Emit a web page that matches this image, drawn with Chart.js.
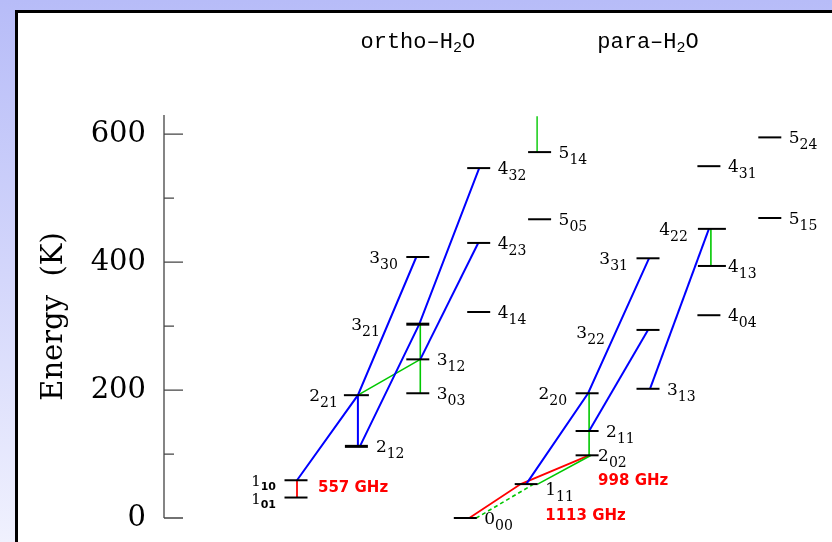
<!DOCTYPE html>
<html>
<head>
<meta charset="utf-8">
<script src="https://cdn.jsdelivr.net/npm/chart.js@4.4.1/dist/chart.umd.min.js"></script>
<style>
  html, body { margin: 0; padding: 0; width: 832px; height: 542px; overflow: hidden; }
  body { position: relative; background: linear-gradient(to bottom, #b7bcf8 0%, #d3d6fb 50%, #f0f1fe 100%); }
  #panel { position: absolute; left: 15px; top: 10px; right: 0; bottom: 0; background: #fff;
           border-left: 3px solid #000; border-top: 3px solid #000; }
  #c { position: absolute; left: 0; top: 0; }
</style>
</head>
<body>
<div id="panel"></div>
<canvas id="c" width="832" height="542"></canvas>
<script>
// ---- Water rotational levels: J, KaKc and energy above ground (K) ----
const orthoJ      = [1, 1, 2, 2, 3, 3, 3, 3, 4, 4, 4, 5, 5];
const orthoKaKc   = ['01', '10', '12', '21', '03', '12', '21', '30', '14', '23', '32', '05', '14'];
const orthoEnergy = [32, 59, 112, 192, 195, 248, 303, 408, 322, 430, 547, 467, 572];

const paraJ      = [0, 1, 2, 2, 2, 3, 3, 3, 4, 4, 4, 4, 5, 5];
const paraKaKc   = ['00', '11', '02', '11', '20', '13', '22', '31', '04', '13', '22', '31', '15', '24'];
const paraEnergy = [0, 53, 98, 136, 195, 202, 294, 406, 317, 394, 452, 550, 469, 595];

// ---- Transitions as chains of levels (o = ortho, p = para) ----
const blueTransitions = [
  ['o110', 'o221', 'o330'], ['o221', 'o212'], ['o212', 'o321', 'o432'], ['o312', 'o423'],
  ['p111', 'p220', 'p331'], ['p211', 'p322'], ['p313', 'p422']
];
const greenTransitions = [
  ['o221', 'o312'], ['o321', 'o303'], ['p220', 'p202'], ['p422', 'p413'], ['p202', 'p111']
];
const greenDashedTransitions = [['p111', 'p000']];
const redTransitions = [['o110', 'o101'], ['p000', 'p111', 'p202']];
// line from 5_14 up to a level above the plotted range: [lower level, upper energy]
const openTransitions = [['o514', 628]];

// ---- Texts ----
const lineFreqLabels = ['557 GHz', '998 GHz', '1113 GHz'];
const panelTitles = [['ortho–H', '2', 'O'], ['para–H', '2', 'O']];
const yTickValues = [0, 200, 400, 600];
const yMinorTicks = [100, 300, 500];

// ---- Layout and styling ----
const PX = 60.9;          // pixels per rotational column
const PARA_SHIFT = 3.78;  // para columns sit to the right of ortho ones
const HALF = 11.5;        // half length of a level bar (px)
const levelExtent = { p422: [-11, 17], p413: [-11, 17], o212: [-12, 11], o221: [-13, 12] };
const thickLevels = ['o321', 'o212'];
// x offset (px from the column centre) where each chain point meets its level
const blueAttach  = [[1, 1, -1.5], [1, 1], [3, 1.5, 0.5], [2.5, -0.5], [0, 1, 1], [2, 0], [2, 0]];
const greenAttach = [[1, 2.5], [2.5, 2.5], [2, 2], [2, 2], [4, 11.5]];
const greenDashedAttach = [[7.5, 11]];
const redAttach   = [[1, 1], [4, -5.5, 2]];
const openAttach  = [-2.5];
// label placement: L = label to the left (dx = right edge), default right (dx = left edge)
const labelPlace = {
  o101: { side: 'L', dx: -20, small: true }, o110: { side: 'L', dx: -20, small: true },
  o221: { side: 'L', dx: -19 }, o321: { side: 'L', dx: -38 }, o330: { side: 'L', dx: -20 },
  p220: { side: 'L', dx: -20 }, p322: { side: 'L', dx: -43, dy: 2 }, p331: { side: 'L', dx: -20 },
  p422: { side: 'L', dx: -21 },
  p202: { dx: 11 }, p111: { dx: 19, dy: 5 }
};
const freqPlace = [
  { col: 'o110', dx: 22, at: ['o110', 'o101'], dy: -1 },
  { col: 'p202', dx: 11, at: ['p202'], dy: 26 },
  { col: 'p111', dx: 19, at: ['p000'], dy: -2 }
];
const BLUE = '#0000ff', GREEN = '#00c800', RED = '#ff0000';

// ---- Build level table ----
const levels = {};
orthoJ.forEach((J, i) => {
  levels['o' + J + orthoKaKc[i]] = { J, sub: orthoKaKc[i], E: orthoEnergy[i], col: J };
});
paraJ.forEach((J, i) => {
  levels['p' + J + paraKaKc[i]] = { J, sub: paraKaKc[i], E: paraEnergy[i], col: J + PARA_SHIFT };
});

const common = { showLine: true, pointRadius: 0, pointHoverRadius: 0, fill: false, clip: false,
                 tension: 0, borderCapStyle: 'butt' };
const datasets = [];

Object.entries(levels).forEach(([k, L]) => {
  const ext = levelExtent[k] || [-HALF, HALF];
  datasets.push(Object.assign({}, common, {
    data: [{ x: L.col + ext[0] / PX, y: L.E }, { x: L.col + ext[1] / PX, y: L.E }],
    borderColor: '#000', borderWidth: thickLevels.includes(k) ? 3 : 2, order: 0
  }));
});

function addChains(chains, attach, color, width, dash) {
  chains.forEach((path, i) => {
    datasets.push(Object.assign({}, common, {
      data: path.map((k, j) => ({ x: levels[k].col + attach[i][j] / PX, y: levels[k].E })),
      borderColor: color, borderWidth: width, borderDash: dash || [], order: 1
    }));
  });
}
addChains(blueTransitions, blueAttach, BLUE, 2);
addChains(greenTransitions, greenAttach, GREEN, 1.6);
addChains(greenDashedTransitions, greenDashedAttach, GREEN, 1.6, [4, 3]);
addChains(redTransitions, redAttach, RED, 1.8);
openTransitions.forEach(([k, eTop], i) => {
  const x = levels[k].col + openAttach[i] / PX;
  datasets.push(Object.assign({}, common, {
    data: [{ x, y: levels[k].E }, { x, y: eTop }], borderColor: GREEN, borderWidth: 1.4, order: 1
  }));
});

// ---- Text and axis decorations ----
const diagramText = {
  id: 'diagramText',
  afterDraw(chart) {
    const ctx = chart.ctx, xs = chart.scales.x, ys = chart.scales.y, area = chart.chartArea;
    ctx.save();

    // axis line with inward ticks
    ctx.strokeStyle = '#444';
    ctx.lineWidth = 1.3;
    ctx.beginPath();
    ctx.moveTo(area.left, area.top);
    ctx.lineTo(area.left, area.bottom);
    yTickValues.forEach(v => { const y = ys.getPixelForValue(v); ctx.moveTo(area.left, y); ctx.lineTo(area.left + 19, y); });
    yMinorTicks.forEach(v => { const y = ys.getPixelForValue(v); ctx.moveTo(area.left, y); ctx.lineTo(area.left + 10, y); });
    ctx.stroke();

    // level labels J with KaKc subscript
    ctx.fillStyle = '#000';
    ctx.textAlign = 'left';
    ctx.textBaseline = 'alphabetic';
    Object.entries(levels).forEach(([k, L]) => {
      const p = labelPlace[k] || {};
      const side = p.side || 'R';
      const dx = p.dx !== undefined ? p.dx : 19;
      const yl = ys.getPixelForValue(L.E) + (p.dy || 0);
      const mainFont = p.small ? '15px "DejaVu Serif"' : '17px "DejaVu Serif"';
      const subFont = p.small ? 'bold 11px "DejaVu Sans"' : '14px "DejaVu Serif"';
      ctx.font = mainFont; const wm = ctx.measureText(String(L.J)).width;
      ctx.font = subFont; const ws = ctx.measureText(L.sub).width;
      const xc = xs.getPixelForValue(L.col) + dx;
      const x0 = side === 'L' ? xc - wm - ws : xc;
      ctx.font = mainFont; ctx.fillText(String(L.J), x0, yl + 6);
      ctx.font = subFont; ctx.fillText(L.sub, x0 + wm, yl + (p.small ? 10 : 12));
    });

    // line frequencies
    ctx.fillStyle = RED;
    ctx.font = 'bold 15px "DejaVu Sans"';
    ctx.textBaseline = 'middle';
    freqPlace.forEach((f, i) => {
      const eMid = f.at.reduce((s, k) => s + levels[k].E, 0) / f.at.length;
      const x = xs.getPixelForValue(levels[f.col].col) + f.dx;
      const y = ys.getPixelForValue(eMid) + f.dy;
      ctx.fillText(lineFreqLabels[i], x, y);
    });

    // panel titles over the J = 3 columns
    ctx.fillStyle = '#000';
    ctx.textBaseline = 'alphabetic';
    const titleCols = [3, 3 + PARA_SHIFT];
    panelTitles.forEach((parts, i) => {
      const big = '22px "Liberation Mono"', small = '15px "Liberation Mono"';
      ctx.font = big; const w0 = ctx.measureText(parts[0]).width, w2 = ctx.measureText(parts[2]).width;
      ctx.font = small; const w1 = ctx.measureText(parts[1]).width;
      let x = xs.getPixelForValue(titleCols[i]) - (w0 + w1 + w2) / 2;
      const yb = area.top - 67;
      ctx.font = big; ctx.fillText(parts[0], x, yb); x += w0;
      ctx.font = small; ctx.fillText(parts[1], x, yb + 4); x += w1;
      ctx.font = big; ctx.fillText(parts[2], x, yb);
    });

    ctx.restore();
  }
};

new Chart(document.getElementById('c'), {
  type: 'scatter',
  data: { datasets },
  options: {
    responsive: false,
    animation: false,
    events: [],
    layout: { padding: { left: 0, right: 0, top: 115, bottom: 24 } },
    plugins: { legend: { display: false }, tooltip: { enabled: false } },
    scales: {
      x: { type: 'linear', display: false, min: 1 - 132 / PX, max: 1 + 536 / PX },
      y: {
        type: 'linear', position: 'left', min: 0, max: 630,
        grid: { display: false, drawTicks: false },
        border: { display: false },
        ticks: {
          stepSize: 100, includeBounds: false, autoSkip: false, padding: 18,
          color: '#000', font: { family: 'DejaVu Serif', size: 29 },
          callback: v => (yTickValues.includes(v) ? String(v) : '')
        },
        title: {
          display: true, text: 'Energy  (K)', color: '#000',
          font: { family: 'DejaVu Serif', size: 29, lineHeight: 1 },
          padding: { top: 40, bottom: 0 }
        },
        afterFit(scale) {
          scale.width = 164;
          scale.paddingTop = 0;
          scale.paddingBottom = 0;
        }
      }
    }
  },
  plugins: [diagramText]
});
</script>
</body>
</html>
